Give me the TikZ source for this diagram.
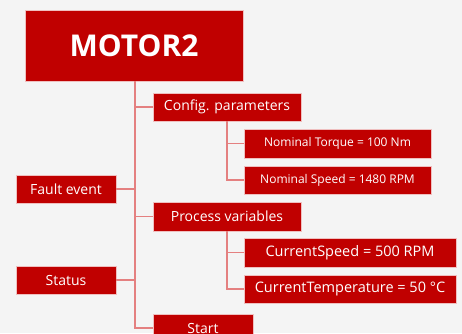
\documentclass[tikz,border=0pt]{standalone}
\usepackage{fontspec}
\setmainfont{Open Sans}
\usetikzlibrary{positioning, calc}
\usepackage{xcolor}
\definecolor{motorred}{RGB}{192,0,0}
\definecolor{linkpink}{RGB}{228,128,128}
\definecolor{bggray}{RGB}{244,244,244}

\begin{document}
\begin{tikzpicture}[
    x=1pt, y=-1pt,
    box/.style={rectangle, draw=white!75!motorred, line width=0.6pt, fill=motorred,
                text=white, inner sep=0pt, align=center},
    conn/.style={draw=linkpink, line width=1.2pt}
]

% --- Background ---
\fill[bggray] (0,0) rectangle (462,333);
\clip (0,0) rectangle (462,333);

% --- Grid Coordinates ---
% Columns
\def\cO{66}     % left side boxes
\def\cI{134}    % title
\def\cII{227}   % first level
\def\cIII{337.5} % nominal values
\def\cIV{350}   % current values

% --- Title ---
\node[box, minimum width=218pt, minimum height=71pt, font=\fontsize{30}{30}\selectfont\bfseries]
      (motor) at (\cI, 45.5) {MOTOR2};

% --- First Level ---
\node[box, minimum width=148pt, minimum height=28pt, font=\fontsize{14}{14}\selectfont]
      (cfg) at (\cII, 107) {Config. parameters};
\node[box, minimum width=148pt, minimum height=29pt, font=\fontsize{14}{14}\selectfont]
      (proc) at (\cII, 216.5) {Process variables};
\node[box, minimum width=100pt, minimum height=28pt, font=\fontsize{14}{14}\selectfont]
      (start) at (203, 328) {Start};

% --- Left Side ---
\node[box, minimum width=100pt, minimum height=28pt, font=\fontsize{14}{14}\selectfont]
      (fault) at (\cO, 189) {Fault event};
\node[box, minimum width=100pt, minimum height=28pt, font=\fontsize{14}{14}\selectfont]
      (status) at (\cO, 280) {Status};

% --- Second Level ---
\node[box, minimum width=187pt, minimum height=29pt, font=\fontsize{12}{12}\selectfont]
      (torque) at (\cIII, 143.5) {Nominal Torque = 100 Nm};
\node[box, minimum width=187pt, minimum height=28pt, font=\fontsize{12}{12}\selectfont]
      (speed) at (\cIII, 180) {Nominal Speed = 1480 RPM};
\node[box, minimum width=212pt, minimum height=29pt, font=\fontsize{14.5}{14.5}\selectfont]
      (cspeed) at (\cIV, 252.5) {CurrentSpeed = 500 RPM};
\node[box, minimum width=212pt, minimum height=28pt, font=\fontsize{14.5}{14.5}\selectfont]
      (ctemp) at (\cIV, 289) {CurrentTemperature = 50 °C};

% --- Connectors ---
\coordinate (trunk) at (135, 0 |- motor.south);

% Main trunk
\draw[conn] (trunk) |- (start.west);
\draw[conn] (trunk) |- (cfg.west);
\draw[conn] (trunk) |- (proc.west);

% Left side
\draw[conn] (fault.east) -- (fault.east -| trunk);
\draw[conn] (status.east) -- (status.east -| trunk);

% Sub trunks
\draw[conn] (cfg.south) |- (torque.west);
\draw[conn] (cfg.south) |- (speed.west);
\draw[conn] (proc.south) |- (cspeed.west);
\draw[conn] (proc.south) |- (ctemp.west);

\end{tikzpicture}
\end{document}
